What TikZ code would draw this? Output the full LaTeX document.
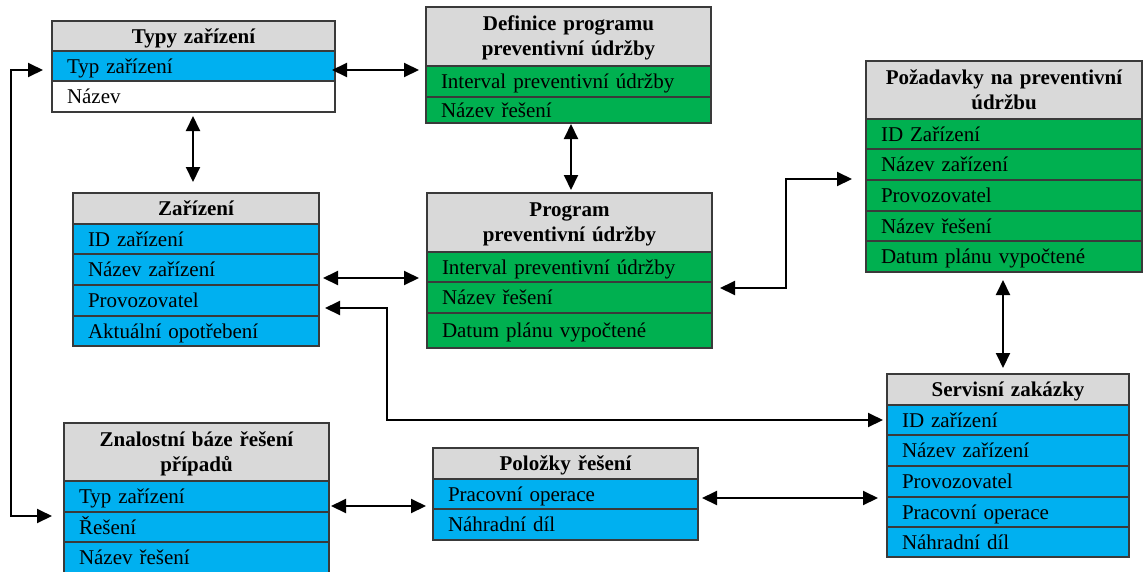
\documentclass[tikz,border=0pt]{standalone}
\usepackage{fontspec}
\setmainfont{Liberation Serif}
\usetikzlibrary{calc,arrows.meta}
\definecolor{hdrgray}{HTML}{D9D9D9}
\definecolor{cblue}{HTML}{00B0F0}
\definecolor{cgreen}{HTML}{00B050}
\definecolor{bordc}{HTML}{3A3A3A}
\tikzset{
 cell/.style={draw=bordc, line width=1.2pt, anchor=north west, inner xsep=15pt, inner ysep=0pt, outer sep=0pt, text height=14pt, text depth=0pt, align=left, font=\fontsize{21}{25}\selectfont},
 hd/.style={cell, fill=hdrgray, align=center, font=\fontsize{21}{25}\selectfont\bfseries},
 hdtwo/.style={hd, text depth=25.6pt},
 bl/.style={cell, fill=cblue},
 gr/.style={cell, fill=cgreen},
 wh/.style={cell, fill=white},
 dar/.style={line width=2pt, {Triangle[length=15pt,width=14pt]}-{Triangle[length=15pt,width=14pt]}},
}
\begin{document}
\begin{tikzpicture}[x=1pt,y=-1pt]
\useasboundingbox (0,0) rectangle (1143,571);
% Typy zarizeni: x 52-335
\node[hd, text width=253pt, minimum height=30pt] (t0) at (52,21) {Typy zařízení};
\node[bl, text width=253pt, minimum height=30pt] (t1) at (52,51) {Typ zařízení};
\node[wh, text width=253pt, minimum height=31pt] (t2) at (52,81) {Název};
% Definice: x 426-711
\node[hdtwo, text width=255pt, minimum height=59pt] (d0) at (426,7) {Definice programu\\preventivní údržby};
\node[gr, text width=255pt, minimum height=31pt] (d1) at (426,66) {Interval preventivní údržby};
\node[gr, text width=255pt, minimum height=26pt] (d2) at (426,97) {Název řešení};
% Pozadavky: x 866-1142
\node[hdtwo, text width=246pt, minimum height=58pt] (q0) at (866,61) {Požadavky na preventivní\\údržbu};
\node[gr, text width=246pt, minimum height=30pt] (q1) at (866,119) {ID Zařízení};
\node[gr, text width=246pt, minimum height=31pt] (q2) at (866,149) {Název zařízení};
\node[gr, text width=246pt, minimum height=31pt] (q3) at (866,180) {Provozovatel};
\node[gr, text width=246pt, minimum height=30pt] (q4) at (866,211) {Název řešení};
\node[gr, text width=246pt, minimum height=31pt] (q5) at (866,241) {Datum plánu vypočtené};
% Zarizeni: x 73-319
\node[hd, text width=216pt, minimum height=31pt] (z0) at (73,193) {Zařízení};
\node[bl, text width=216pt, minimum height=30pt] (z1) at (73,224) {ID zařízení};
\node[bl, text width=216pt, minimum height=31pt] (z2) at (73,254) {Název zařízení};
\node[bl, text width=216pt, minimum height=31pt] (z3) at (73,285) {Provozovatel};
\node[bl, text width=216pt, minimum height=30pt] (z4) at (73,316) {Aktuální opotřebení};
% Program: x 427-712
\node[hdtwo, text width=255pt, minimum height=59pt] (p0) at (427,193) {Program\\preventivní údržby};
\node[gr, text width=255pt, minimum height=30pt] (p1) at (427,252) {Interval preventivní údržby};
\node[gr, text width=255pt, minimum height=31pt] (p2) at (427,282) {Název řešení};
\node[gr, text width=255pt, minimum height=35pt] (p3) at (427,313) {Datum plánu vypočtené};
% Servisni zakazky: x 887-1129
\node[hd, text width=212pt, minimum height=31pt] (s0) at (887,374) {Servisní zakázky};
\node[bl, text width=212pt, minimum height=30pt] (s1) at (887,405) {ID zařízení};
\node[bl, text width=212pt, minimum height=31pt] (s2) at (887,435) {Název zařízení};
\node[bl, text width=212pt, minimum height=31pt] (s3) at (887,466) {Provozovatel};
\node[bl, text width=212pt, minimum height=30pt] (s4) at (887,497) {Pracovní operace};
\node[bl, text width=212pt, minimum height=30pt] (s5) at (887,527) {Náhradní díl};
% Znalostni baze: x 64-329
\node[hdtwo, text width=235pt, minimum height=58pt] (k0) at (64,423) {Znalostní báze řešení\\případů};
\node[bl, text width=235pt, minimum height=31pt] (k1) at (64,481) {Typ zařízení};
\node[bl, text width=235pt, minimum height=30pt] (k2) at (64,512) {Řešení};
\node[bl, text width=235pt, minimum height=31pt] (k3) at (64,542) {Název řešení};
% Polozky reseni: x 433-698
\node[hd, text width=235pt, minimum height=31pt] (l0) at (433,448) {Položky řešení};
\node[bl, text width=235pt, minimum height=30pt] (l1) at (433,479) {Pracovní operace};
\node[bl, text width=235pt, minimum height=31pt] (l2) at (433,509) {Náhradní díl};
% connectors
\draw[dar] ($(t1.east)+(-3,4)$) -- ($(d1.west)+(-7,-11.5)$);
\draw[dar] ($(t2.south)+(-0.5,4)$) -- ($(z0.north)+(-3,-11)$);
\draw[dar] ($(d2.south)+(2.5,1)$) -- ($(p0.north)+(1.5,-3)$);
\draw[dar] ($(z2.east)+(4,8.5)$) -- ($(p1.west)+(-8,11)$);
\draw[dar] ($(z3.east)+(6,7.5)$) -- ++(62,0) |- ($(s1.west)+(-4,0)$);
\draw[dar] ($(p2.east)+(8,-9.5)$) -- ++(66,0) |- ($(q2.west)+(-14,14.5)$);
\draw[dar] ($(q5.south)+(-1,8)$) -- ($(s0.north)+(-5,-6)$);
\draw[dar] ($(t1.west)+(-9,4)$) -- ++(-32,0) |- ($(k2.west)+(-12,-11)$);
\draw[dar] ($(k1.east)+(2,9.5)$) -- ($(l1.west)+(-7,12)$);
\draw[dar] ($(l1.east)+(4,4)$) -- ($(s4.west)+(-9,-14)$);
\end{tikzpicture}
\end{document}
